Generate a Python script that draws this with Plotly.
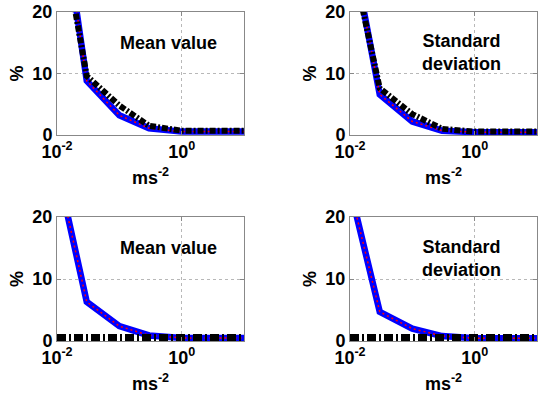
import plotly.graph_objects as go
from plotly.subplots import make_subplots

x_vals = [0.01, 0.03, 0.1, 0.3, 1, 3, 10]

tl_blue = [42, 8.8, 3.2, 1.1, 0.55, 0.55, 0.55]
tl_black = [37, 9.6, 4.8, 1.5, 0.7, 0.7, 0.7]
tr_blue = [32, 6.6, 2.2, 0.7, 0.45, 0.45, 0.45]
tr_black = [30, 7.6, 3.4, 1.0, 0.55, 0.55, 0.55]
bl_blue = [28, 6.3, 2.4, 0.9, 0.5, 0.5, 0.5]
bl_black = [0.55, 0.55, 0.55, 0.55, 0.55, 0.55, 0.55]
br_blue = [24.6, 4.7, 2.0, 0.8, 0.45, 0.45, 0.45]
br_black = [0.55, 0.55, 0.55, 0.55, 0.55, 0.55, 0.55]

panel_titles = ["Mean value", "Standard<br>deviation", "Mean value", "Standard<br>deviation"]
x_tickvals = [0.01, 1]
x_ticktext = ["10<sup>-2</sup>", "10<sup>0</sup>"]
y_tickvals = [0, 10, 20]
x_title = "ms<sup>-2</sup>"
y_title = "%"

FONT = "Liberation Sans"

fig = make_subplots(rows=2, cols=2)

panels = [
    (1, 1, tl_blue, tl_black, "6px,2px,2px,2px", 6),
    (1, 2, tr_blue, tr_black, "6px,2px,2px,2px", 6),
    (2, 1, bl_blue, bl_black, "9px,3px,2px,3px", 7),
    (2, 2, br_blue, br_black, "9px,3px,2px,3px", 7),
]

for r, c, blue, black, bdash, bw in panels:
    fig.add_trace(go.Scatter(x=x_vals, y=blue, mode="lines",
                             line=dict(color="#0000ff", width=6.5),
                             showlegend=False), row=r, col=c)
    fig.add_trace(go.Scatter(x=x_vals, y=blue, mode="lines",
                             line=dict(color="#ff0000", width=1.5, dash="2px,3px"),
                             showlegend=False), row=r, col=c)
    fig.add_trace(go.Scatter(x=x_vals, y=black, mode="lines",
                             line=dict(color="#000000", width=bw, dash=bdash),
                             showlegend=False), row=r, col=c)

xdoms = [[57 / 547, 244 / 547], [350 / 547, 537 / 547]]
ydoms = [[1 - 135 / 401, 1 - 12 / 401], [1 - 341 / 401, 1 - 217 / 401]]

axis_font = dict(family=FONT, size=18, color="black", weight="bold")

for i, (r, c) in enumerate([(1, 1), (1, 2), (2, 1), (2, 2)]):
    fig.update_xaxes(type="log", range=[-2, 1], domain=xdoms[c - 1],
                     automargin=False,
                     tickvals=x_tickvals, ticktext=x_ticktext,
                     tickfont=axis_font, ticks="inside", ticklen=4,
                     tickcolor="#888888", showline=True, linecolor="#888888",
                     linewidth=1, mirror="ticks", showgrid=True,
                     gridcolor="#b8b8b8", griddash="dot", gridwidth=1,
                     zeroline=False,
                     title=dict(text=x_title, font=axis_font, standoff=10),
                     row=r, col=c)
    fig.update_yaxes(range=[0, 20], domain=ydoms[r - 1],
                     automargin=False,
                     tickvals=y_tickvals, tickfont=axis_font,
                     ticks="inside", ticklen=4, tickcolor="#888888",
                     showline=True, linecolor="#888888", linewidth=1,
                     mirror="ticks", showgrid=True, gridcolor="#b8b8b8",
                     griddash="dot", gridwidth=1, zeroline=False,
                     title=dict(text=y_title, font=axis_font, standoff=4),
                     row=r, col=c)

# panel labels
label_pos = [(168, 43), (461, 52), (168, 248), (461, 258)]
for (px, py), txt in zip(label_pos, panel_titles):
    fig.add_annotation(x=px / 547, y=1 - py / 401, xref="paper", yref="paper",
                       text=txt, showarrow=False, align="center",
                       font=dict(family=FONT, size=18, color="black", weight="bold"),
                       xanchor="center", yanchor="middle")

fig.update_layout(width=547, height=401, margin=dict(l=0, r=0, t=0, b=0),
                  paper_bgcolor="white", plot_bgcolor="white")

fig.write_html("out.html", config={"displayModeBar": False},
               post_script="document.body.style.margin='0';")
